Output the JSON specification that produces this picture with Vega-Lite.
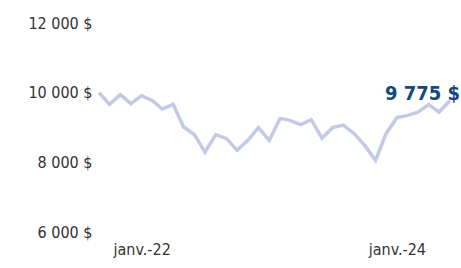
{
  "$schema": "https://vega.github.io/schema/vega-lite/v6.json",
  "width": 351,
  "height": 209,
  "autosize": "none",
  "padding": {"left": 99, "top": 23, "right": 11, "bottom": 36},
  "background": "white",
  "config": {"view": {"stroke": null}, "font": "'Liberation Sans Narrow', 'DejaVu Sans Condensed', sans-serif"},
  "data": {"values": [
    {"date": "2021-09-01", "value": 10000},
    {"date": "2021-10-01", "value": 9664},
    {"date": "2021-11-01", "value": 9943},
    {"date": "2021-12-01", "value": 9684},
    {"date": "2022-01-01", "value": 9914},
    {"date": "2022-02-01", "value": 9770},
    {"date": "2022-03-01", "value": 9530},
    {"date": "2022-04-01", "value": 9664},
    {"date": "2022-05-01", "value": 9013},
    {"date": "2022-06-01", "value": 8795},
    {"date": "2022-07-01", "value": 8295},
    {"date": "2022-08-01", "value": 8795},
    {"date": "2022-09-01", "value": 8680},
    {"date": "2022-10-01", "value": 8344},
    {"date": "2022-11-01", "value": 8631},
    {"date": "2022-12-01", "value": 8996},
    {"date": "2023-01-01", "value": 8631},
    {"date": "2023-02-01", "value": 9262},
    {"date": "2023-03-01", "value": 9205},
    {"date": "2023-04-01", "value": 9082},
    {"date": "2023-05-01", "value": 9225},
    {"date": "2023-06-01", "value": 8697},
    {"date": "2023-07-01", "value": 8996},
    {"date": "2023-08-01", "value": 9070},
    {"date": "2023-09-01", "value": 8823},
    {"date": "2023-10-01", "value": 8487},
    {"date": "2023-11-01", "value": 8057},
    {"date": "2023-12-01", "value": 8823},
    {"date": "2024-01-01", "value": 9282},
    {"date": "2024-02-01", "value": 9349},
    {"date": "2024-03-01", "value": 9443},
    {"date": "2024-04-01", "value": 9656},
    {"date": "2024-05-01", "value": 9443},
    {"date": "2024-06-01", "value": 9775}
  ]},
  "encoding": {
    "x": {
      "field": "date", "type": "temporal",
      "scale": {"type": "utc", "domain": [{"year": 2021, "month": 9, "date": 1, "utc": true}, {"year": 2024, "month": 6, "date": 1, "utc": true}]},
      "axis": {
        "title": null, "domain": false, "ticks": false, "grid": false,
        "values": [{"year": 2022, "month": 1, "date": 1, "utc": true}, {"year": 2024, "month": 1, "date": 1, "utc": true}],
        "labelExpr": "'janv.-' + utcFormat(datum.value, '%y')",
        "labelFontSize": 16, "labelColor": "#333333", "labelPadding": 9, "labelFlush": false
      }
    },
    "y": {
      "field": "value", "type": "quantitative",
      "scale": {"domain": [6000, 12000], "nice": false, "zero": false},
      "axis": {
        "title": null, "domain": false, "ticks": false, "grid": false,
        "values": [6000, 8000, 10000, 12000],
        "labelExpr": "replace(format(datum.value, ',d'), ',', ' ') + ' $'",
        "labelFontSize": 16, "labelColor": "#333333", "labelPadding": 7
      }
    }
  },
  "layer": [
    {"mark": {"type": "line", "color": "#c3cae6", "strokeWidth": 3.5, "strokeJoin": "miter"}},
    {
      "transform": [{"filter": "datum.value == 9775"}],
      "mark": {"type": "text", "align": "right", "baseline": "alphabetic", "dx": 10, "dy": -1, "fontSize": 20, "fontWeight": "bold", "color": "#13497b"},
      "encoding": {"text": {"value": "9 775 $"}}
    }
  ]
}
